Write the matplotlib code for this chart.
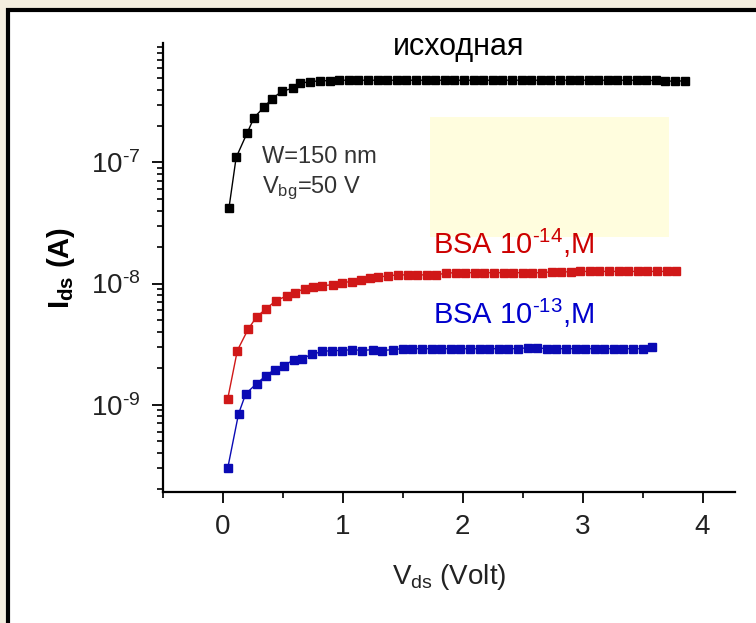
import matplotlib
matplotlib.use("Agg")
import matplotlib.pyplot as plt
from matplotlib.patches import Rectangle
from matplotlib.ticker import FuncFormatter, MultipleLocator, LogLocator, NullFormatter, FixedLocator
import numpy as np

plt.rcParams['font.family'] = ['Liberation Sans', 'DejaVu Sans']
plt.rcParams['mathtext.fontset'] = 'custom'
plt.rcParams['mathtext.rm'] = 'Liberation Sans'
plt.rcParams['mathtext.it'] = 'Liberation Sans'
plt.rcParams['mathtext.bf'] = 'Liberation Sans:bold'

HY = '\u2010'  # short hyphen used in the exponents

# --- data ---
# pristine device ("исходная")
x_init = [0.05, 0.11, 0.20, 0.26, 0.34, 0.41, 0.49, 0.58, 0.64, 0.73,
          0.81, 0.89, 0.97, 1.05, 1.13, 1.21, 1.29, 1.37, 1.45, 1.53,
          1.61, 1.69, 1.77, 1.85, 1.93, 2.01, 2.09, 2.17, 2.25, 2.33,
          2.41, 2.49, 2.57, 2.65, 2.73, 2.81, 2.89, 2.97, 3.05, 3.13,
          3.21, 3.29, 3.37, 3.45, 3.53, 3.61, 3.69, 3.77, 3.85]
i_init = [0.42, 1.10, 1.74, 2.35, 2.85, 3.37, 3.86, 4.10, 4.50, 4.66,
          4.72, 4.75, 4.78, 4.78, 4.78, 4.78, 4.78, 4.78, 4.78, 4.78,
          4.78, 4.78, 4.78, 4.78, 4.78, 4.78, 4.78, 4.78, 4.78, 4.78,
          4.78, 4.78, 4.78, 4.78, 4.78, 4.78, 4.78, 4.78, 4.78, 4.78,
          4.78, 4.78, 4.78, 4.78, 4.76, 4.76, 4.70, 4.70, 4.72]  # x1e-7 A

# BSA 1e-14 M
x_14 = [0.04, 0.12, 0.21, 0.28, 0.36, 0.44, 0.53, 0.60, 0.68, 0.75,
        0.83, 0.92, 0.99, 1.08, 1.15, 1.23, 1.29, 1.38, 1.46, 1.54,
        1.62, 1.70, 1.78, 1.86, 1.94, 2.02, 2.10, 2.18, 2.26, 2.34,
        2.42, 2.50, 2.58, 2.66, 2.74, 2.82, 2.90, 2.98, 3.06, 3.14,
        3.22, 3.30, 3.38, 3.46, 3.54, 3.62, 3.70, 3.78]
i_14 = [1.12, 2.8, 4.2, 5.3, 6.2, 7.2, 7.9, 8.4, 9.1, 9.4,
        9.6, 9.8, 10.2, 10.4, 10.8, 11.1, 11.3, 11.6, 11.8, 11.8,
        11.8, 11.8, 11.8, 12.2, 12.3, 12.3, 12.3, 12.3, 12.3, 12.3,
        12.3, 12.3, 12.3, 12.3, 12.5, 12.5, 12.5, 12.6, 12.6, 12.6,
        12.6, 12.6, 12.6, 12.6, 12.6, 12.6, 12.6, 12.6]  # x1e-9 A

# BSA 1e-13 M
x_13 = [0.04, 0.13, 0.19, 0.28, 0.36, 0.43, 0.51, 0.59, 0.66, 0.74,
        0.83, 0.91, 0.99, 1.08, 1.16, 1.25, 1.33, 1.42, 1.50, 1.58,
        1.66, 1.74, 1.82, 1.90, 1.98, 2.06, 2.14, 2.22, 2.30, 2.38,
        2.46, 2.54, 2.62, 2.70, 2.78, 2.86, 2.94, 3.02, 3.10, 3.18,
        3.26, 3.34, 3.42, 3.50, 3.58]
i_13 = [0.30, 0.84, 1.23, 1.49, 1.74, 1.95, 2.10, 2.35, 2.40, 2.60,
        2.75, 2.80, 2.80, 2.85, 2.80, 2.85, 2.80, 2.85, 2.90, 2.90,
        2.90, 2.90, 2.90, 2.90, 2.90, 2.90, 2.90, 2.90, 2.90, 2.90,
        2.90, 2.95, 2.95, 2.90, 2.90, 2.90, 2.90, 2.90, 2.90, 2.90,
        2.90, 2.90, 2.90, 2.90, 3.00]  # x1e-9 A

y_major = [1e-9, 1e-8, 1e-7]

fig = plt.figure(figsize=(7.56, 6.23), dpi=100)
fig.patch.set_facecolor('#F4EEDF')

# white slide panel with black frame on top/left
fig.patches.append(Rectangle((8 / 756, -0.1), 1.2, 1 - 10 / 623 + 0.1,
                             transform=fig.transFigure, facecolor='white',
                             edgecolor='black', lw=3, zorder=-5))

ax = fig.add_axes([163 / 756, 1 - 492 / 623, (735 - 163) / 756, (492 - 43) / 623])
ax.set_zorder(2)
ax.patch.set_visible(False)

# pale yellow box behind the labels
ax.add_patch(Rectangle((430 / 756, 1 - 237 / 623), 239 / 756, 120 / 623,
                       transform=fig.transFigure, facecolor='#FFFDDE',
                       edgecolor='none', zorder=0.5))

ax.plot(x_init, np.array(i_init) * 1e-7, color='black', marker='s', ms=5.8, lw=1.0)
ax.plot(x_14, np.array(i_14) * 1e-9, color='#D01818', marker='s', ms=5.2, lw=1.0)
ax.plot(x_13, np.array(i_13) * 1e-9, color='#0A0AB4', marker='s', ms=5.2, lw=1.0)

ax.set_yscale('log')
ax.set_xlim(-0.5, 4.27)
ax.set_ylim(1.9e-10, 9.7e-7)

for s in ['top', 'right']:
    ax.spines[s].set_visible(False)
for s in ['left', 'bottom']:
    ax.spines[s].set_linewidth(1.6)


def log_label(v, pos):
    return '$\\mathregular{10^{' + HY + str(abs(round(np.log10(v)))) + '}}$'


ax.xaxis.set_major_locator(MultipleLocator(1))
ax.xaxis.set_minor_locator(MultipleLocator(0.5))
ax.yaxis.set_major_locator(FixedLocator(y_major))
ax.yaxis.set_minor_locator(LogLocator(base=10, subs=np.arange(2, 10), numticks=20))
ax.yaxis.set_minor_formatter(NullFormatter())
ax.yaxis.set_major_formatter(FuncFormatter(log_label))
ax.tick_params(which='major', direction='out', length=8, width=1.3,
               labelsize=20, colors='black', labelcolor='#222222', pad=8)
ax.tick_params(which='minor', direction='out', length=4, width=1.2)

ax.set_xlabel(r'V$_{\mathregular{ds}}$ (Volt)', fontsize=20, color='#222222', labelpad=16)
ax.set_ylabel(r'$\mathbf{I}_{\mathbf{ds}}$ (A)', fontsize=21, fontweight='bold',
              color='black', labelpad=10)

fig.text(459 / 756, 1 - 47 / 623, 'исходная', fontsize=22, ha='center', va='center',
         color='black', zorder=3)
fig.text(262 / 756, 1 - 157 / 623, 'W=150 nm', fontsize=17, ha='left', va='center',
         color='#333333', zorder=3)
fig.text(262 / 756, 1 - 188 / 623, r'V$_{\mathregular{bg}}$=50 V', fontsize=17,
         ha='left', va='center', color='#333333', zorder=3)
fig.text(433 / 756, 1 - 243 / 623, 'BSA 10$^{\\mathregular{' + HY + '14}}$,M',
         fontsize=21, ha='left', va='center', color='#CC0000', zorder=3)
fig.text(433 / 756, 1 - 313 / 623, 'BSA 10$^{\\mathregular{' + HY + '13}}$,M',
         fontsize=21, ha='left', va='center', color='#0000CC', zorder=3)

fig.savefig('out.png', dpi=100, facecolor=fig.get_facecolor())
